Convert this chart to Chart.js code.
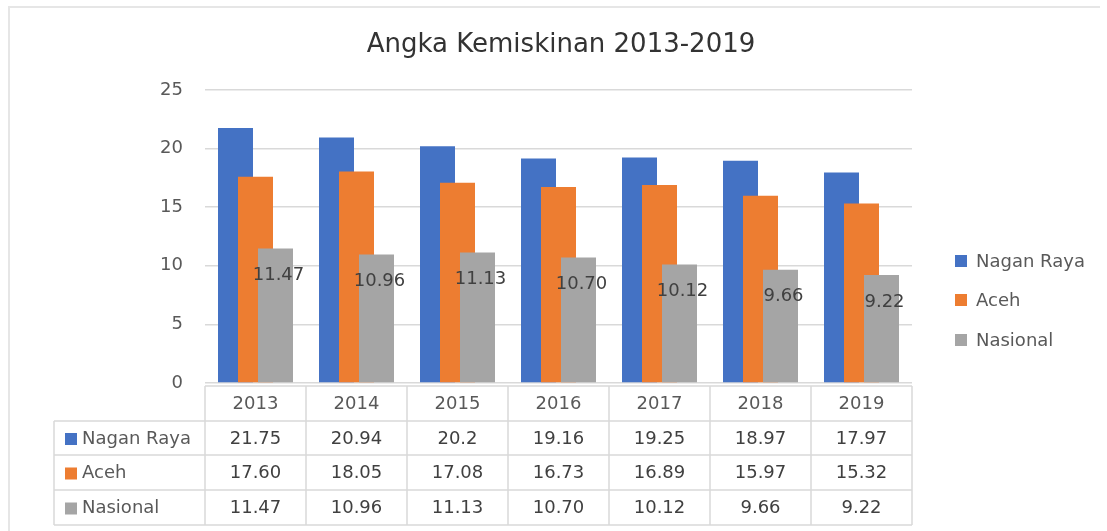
<!DOCTYPE html>
<html>
<head>
<meta charset="utf-8">
<script src="https://cdn.jsdelivr.net/npm/chart.js@4.4.1/dist/chart.umd.min.js"></script>
<style>
    html, body { margin: 0; padding: 0; background: #fff; }
    #wrap { position: relative; width: 1107px; height: 531px; }
</style>
</head>
<body>
<div id="wrap"><canvas id="chart" width="1107" height="531"></canvas></div>
<script>
// Chart data
const years = ['2013', '2014', '2015', '2016', '2017', '2018', '2019'];
const naganRaya = [21.75, 20.94, 20.2, 19.16, 19.25, 18.97, 17.97];
const aceh = [17.60, 18.05, 17.08, 16.73, 16.89, 15.97, 15.32];
const nasional = [11.47, 10.96, 11.13, 10.70, 10.12, 9.66, 9.22];
const seriesNames = ['Nagan Raya', 'Aceh', 'Nasional'];
const yTicks = [0, 5, 10, 15, 20, 25];

const COLORS = ['#4472C4', '#ED7D31', '#A5A5A5'];
const FONT = '"DejaVu Sans", sans-serif';
const GRID = '#d9d9d9';
const TEXT = '#595959';

// Table text: Nagan Raya as written, others with two decimals
function formatCell(value, series) {
    return series === 0 ? String(value) : value.toFixed(2);
}

// Draw datasets left to right so later bars overlap earlier ones
const overlapOrder = {
    id: 'overlapOrder',
    beforeDatasetsDraw(chart) {
        const area = chart.chartArea;
        const ctx = chart.ctx;
        ctx.save();
        ctx.beginPath();
        ctx.rect(area.left, area.top, area.right - area.left, area.bottom - area.top);
        ctx.clip();
        for (let i = 0; i < chart.data.datasets.length; i++) {
            chart.getDatasetMeta(i).controller.draw();
        }
        ctx.restore();
        return false;
    }
};

// Frame, title, legend, labels and data table
const decorations = {
    id: 'decorations',
    beforeDraw(chart) {
        const ctx = chart.ctx;
        ctx.save();
        ctx.strokeStyle = '#e6e6e6';
        ctx.lineWidth = 2;
        ctx.beginPath();
        ctx.moveTo(9, 531);
        ctx.lineTo(9, 7);
        ctx.lineTo(1100, 7);
        ctx.stroke();
        ctx.restore();
    },
    afterDraw(chart) {
        const ctx = chart.ctx;
        const x = chart.scales.x;
        const area = chart.chartArea;
        const colW = x.getPixelForValue(1) - x.getPixelForValue(0);
        ctx.save();

        // title
        ctx.fillStyle = '#333333';
        ctx.font = '26px ' + FONT;
        ctx.textAlign = 'center';
        ctx.textBaseline = 'middle';
        ctx.fillText('Angka Kemiskinan 2013-2019', 561, 45);

        // value labels on Nasional bars
        ctx.font = '18px ' + FONT;
        ctx.fillStyle = '#404040';
        const meta = chart.getDatasetMeta(2);
        meta.data.forEach((bar, i) => {
            ctx.fillText(formatCell(nasional[i], 2), bar.x + 3, bar.y + 27);
        });

        // legend on the right
        const legendY = [261, 300, 340];
        ctx.textAlign = 'left';
        ctx.font = '18px ' + FONT;
        seriesNames.forEach((name, s) => {
            ctx.fillStyle = COLORS[s];
            ctx.fillRect(955, legendY[s] - 6, 12, 12);
            ctx.fillStyle = TEXT;
            ctx.fillText(name, 976, legendY[s] + 1);
        });

        // data table
        const rows = [area.bottom + 3, 421, 455, 490, 525];
        const tableLeft = 54;
        const left = area.left;
        const right = area.right;
        ctx.strokeStyle = GRID;
        ctx.lineWidth = 1.5;
        ctx.beginPath();
        // horizontal lines
        ctx.moveTo(left, rows[0]);
        ctx.lineTo(right, rows[0]);
        for (let r = 1; r < rows.length; r++) {
            ctx.moveTo(tableLeft, rows[r]);
            ctx.lineTo(right, rows[r]);
        }
        // vertical lines
        for (let c = 0; c <= years.length; c++) {
            const px = left + c * colW;
            ctx.moveTo(px, rows[0]);
            ctx.lineTo(px, rows[rows.length - 1]);
        }
        ctx.moveTo(tableLeft, rows[1]);
        ctx.lineTo(tableLeft, rows[rows.length - 1]);
        ctx.stroke();

        // header
        ctx.textAlign = 'center';
        ctx.fillStyle = TEXT;
        years.forEach((y, i) => {
            ctx.fillText(y, x.getPixelForValue(i), (rows[0] + rows[1]) / 2 + 1);
        });

        // rows
        const allSeries = [naganRaya, aceh, nasional];
        allSeries.forEach((values, s) => {
            const cy = (rows[s + 1] + rows[s + 2]) / 2 + 1;
            ctx.textAlign = 'left';
            ctx.fillStyle = COLORS[s];
            ctx.fillRect(65, cy - 6, 12, 12);
            ctx.fillStyle = TEXT;
            ctx.fillText(seriesNames[s], 82, cy);
            ctx.textAlign = 'center';
            ctx.fillStyle = '#404040';
            values.forEach((v, i) => {
                ctx.fillText(formatCell(v, s), x.getPixelForValue(i), cy);
            });
        });

        ctx.restore();
    }
};

const ctx = document.getElementById('chart').getContext('2d');
new Chart(ctx, {
    type: 'bar',
    data: {
        labels: years,
        datasets: [naganRaya, aceh, nasional].map((values, i) => ({
            label: seriesNames[i],
            data: values,
            backgroundColor: COLORS[i],
            borderWidth: 0,
            categoryPercentage: 0.594,
            barPercentage: 1.75
        }))
    },
    options: {
        responsive: false,
        animation: false,
        devicePixelRatio: 1,
        layout: {
            padding: { left: 0, right: 195, top: 90, bottom: 148 }
        },
        plugins: {
            legend: { display: false },
            title: { display: false },
            tooltip: { enabled: false }
        },
        scales: {
            x: {
                display: false,
                offset: true
            },
            y: {
                min: 0,
                max: 25,
                afterBuildTicks: scale => {
                    scale.ticks = yTicks.map(v => ({ value: v }));
                },
                afterFit: scale => {
                    scale.width = 205;
                },
                border: { display: false },
                grid: {
                    color: GRID,
                    lineWidth: 1.5,
                    drawTicks: false
                },
                ticks: {
                    color: TEXT,
                    padding: 22,
                    font: { family: FONT, size: 18 }
                }
            }
        }
    },
    plugins: [overlapOrder, decorations]
});
</script>
</body>
</html>
